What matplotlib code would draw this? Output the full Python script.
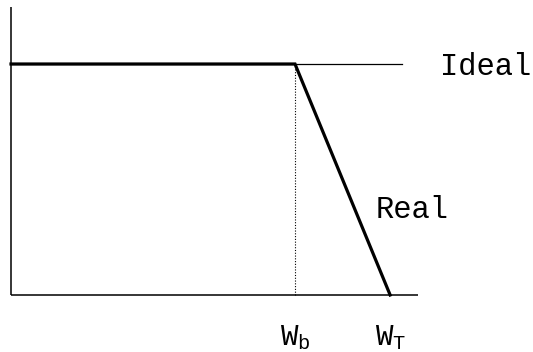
import matplotlib
matplotlib.use("Agg")
import matplotlib.pyplot as plt

# normalised frequency / gain values
W_B = 1.0
W_T = 1.335
IDEAL_END = 1.377
AXIS_X_END = 1.433
AXIS_Y_END = 1.247

ideal_x = [0, IDEAL_END]
ideal_y = [1, 1]
real_x = [0, W_B, W_T]
real_y = [1, 1, 0]

plt.rcParams['font.family'] = ['Liberation Mono', 'DejaVu Sans Mono']

fig = plt.figure(figsize=(5.33, 3.52), dpi=100)
ax = fig.add_axes([0, 0, 1, 1])
ax.set_xlim(-11 / 284, 522 / 284)
ax.set_ylim(-57 / 231, 295 / 231)
ax.axis('off')

# axes drawn as plain lines
ax.plot([0, 0], [0, AXIS_Y_END], color='black', lw=1.1, solid_capstyle='butt')
ax.plot([0, AXIS_X_END], [0, 0], color='black', lw=1.1, solid_capstyle='butt')

ax.plot(ideal_x, ideal_y, color='black', lw=0.9)
ax.plot(real_x, real_y, color='black', lw=2.3, solid_joinstyle='miter')
ax.plot([W_B, W_B], [0, 1], color='black', lw=0.8, linestyle=(0, (1, 1.5)))

ax.text(1.51, 0.985, 'Ideal', fontsize=22, va='center', ha='left')
ax.text(1.283, 0.37, 'Real', fontsize=22, va='center', ha='left')
ax.text(W_B, -0.185, r'W$_\mathregular{b}$', fontsize=21, va='center', ha='center')
ax.text(W_T, -0.185, r'W$_\mathregular{T}$', fontsize=21, va='center', ha='center')

fig.savefig('out.png', dpi=100)
